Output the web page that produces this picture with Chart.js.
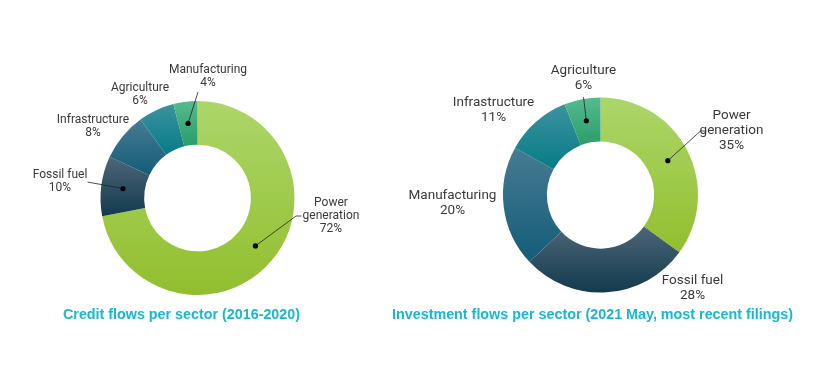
<!DOCTYPE html>
<html>
<head>
<meta charset="utf-8">
<script src="https://cdn.jsdelivr.net/npm/chart.js@4/dist/chart.umd.min.js"></script>
<style>
  html, body { margin: 0; padding: 0; background: #fff; }
  #wrap { position: relative; width: 825px; height: 382px; overflow: hidden; }
  canvas { position: absolute; left: 0; top: 0; }
  .title {
    position: absolute; top: 306px; white-space: nowrap;
    font-family: "Liberation Sans", Arial, sans-serif;
    font-weight: bold; font-size: 14px; line-height: 16px; color: #16b8d5;
    transform-origin: 0 0;
  }
</style>
</head>
<body>
<div id="wrap">
  <canvas id="credit" width="825" height="382"></canvas>
  <canvas id="invest" width="825" height="382"></canvas>
  <div class="title" id="t1">Credit flows per sector (2016-2020)</div>
  <div class="title" id="t2">Investment flows per sector (2021 May, most recent filings)</div>
</div>
<script>
// ---- data ----
const creditLabels = ["Power generation", "Fossil fuel", "Infrastructure", "Agriculture", "Manufacturing"];
const creditValues = [72, 10, 8, 6, 4];

const investLabels = ["Power generation", "Fossil fuel", "Manufacturing", "Infrastructure", "Agriculture"];
const investValues = [35, 28, 20, 11, 6];

// slice colours by position, [top, bottom] of the vertical gradient
const palette = [
  ["#acd66a", "#92bf2e"],
  ["#4d6677", "#123a4e"],
  ["#467b92", "#145c78"],
  ["#3c929f", "#067c86"],
  ["#55bb8e", "#2a9c6a"]
];

// ---- label layout (offsets from donut centre, px) ----
const creditLayout = {
  font: 12, lineH: 13,
  labels: [
    { dx: 133.5, dy: 18, lead: [[98.5, 18], [104, 18]] },
    { dx: -137.5, dy: -16.5, lead: [[-110, -16]] },
    { dx: -104.5, dy: -72 },
    { dx: -57.5, dy: -103.5 },
    { dx: 10.5, dy: -121.5, lead: [[0.5, -106]] }
  ]
};
const investLayout = {
  font: 13.5, lineH: 15,
  labels: [
    { dx: 131, dy: -64, lead: [[100, -64], [106, -64]] },
    { dx: 92, dy: 93 },
    { dx: -148, dy: 8.5 },
    { dx: -107, dy: -85 },
    { dx: -17, dy: -116.5, lead: [[-17, -98]] }
  ]
};

const CUTOUT = 0.55;

function sliceGradient(c) {
  const chart = c.chart;
  const a = chart.chartArea;
  const cols = palette[c.dataIndex % palette.length];
  if (!a) return cols[1];
  const cx = (a.left + a.right) / 2, cy = (a.top + a.bottom) / 2;
  const R = Math.min(a.width, a.height) / 2, r = R * CUTOUT;
  const vals = c.dataset.data;
  const total = vals.reduce((s, v) => s + v, 0);
  let before = 0;
  for (let i = 0; i < c.dataIndex; i++) before += vals[i];
  const a0 = -Math.PI / 2 + 2 * Math.PI * before / total;
  const a1 = a0 + 2 * Math.PI * vals[c.dataIndex] / total;
  let minY = Infinity, maxY = -Infinity;
  for (let k = 0; k <= 60; k++) {
    const t = a0 + (a1 - a0) * k / 60;
    for (const rad of [r, R]) {
      const y = cy + rad * Math.sin(t);
      minY = Math.min(minY, y); maxY = Math.max(maxY, y);
    }
  }
  const g = chart.ctx.createLinearGradient(0, minY, 0, maxY);
  g.addColorStop(0, cols[0]);
  g.addColorStop(1, cols[1]);
  return g;
}

const labelPlugin = {
  id: "sliceLabels",
  afterDatasetsDraw(chart, args, opts) {
    const ctx = chart.ctx;
    const meta = chart.getDatasetMeta(0);
    const labels = chart.data.labels;
    const vals = chart.data.datasets[0].data;
    const total = vals.reduce((s, v) => s + v, 0);
    ctx.save();
    meta.data.forEach((arc, i) => {
      const p = opts.labels[i];
      const cx = arc.x, cy = arc.y;
      if (p.lead) {
        const mid = (arc.startAngle + arc.endAngle) / 2;
        const rm = (arc.innerRadius + arc.outerRadius) / 2;
        const px = cx + rm * Math.cos(mid), py = cy + rm * Math.sin(mid);
        ctx.strokeStyle = "#222";
        ctx.lineWidth = 0.8;
        ctx.beginPath();
        ctx.moveTo(px, py);
        p.lead.forEach(([x, y]) => ctx.lineTo(cx + x, cy + y));
        ctx.stroke();
        ctx.fillStyle = "#000";
        ctx.beginPath();
        ctx.arc(px, py, 2.6, 0, Math.PI * 2);
        ctx.fill();
      }
      const words = labels[i] === "Power generation" ? ["Power", "generation"] : [labels[i]];
      const lines = words.concat([Math.round(vals[i] / total * 100) + "%"]);
      ctx.font = opts.font + "px Roboto, 'Noto Sans', sans-serif";
      ctx.fillStyle = "#3a3a3a";
      ctx.textAlign = "center";
      ctx.textBaseline = "middle";
      const top = cy + p.dy - (lines.length - 1) * opts.lineH / 2;
      lines.forEach((t, k) => ctx.fillText(t, cx + p.dx, top + k * opts.lineH));
    });
    ctx.restore();
  }
};

function makeChart(id, labels, values, padding, layout) {
  return new Chart(document.getElementById(id), {
    type: "doughnut",
    data: {
      labels: labels,
      datasets: [{
        data: values,
        backgroundColor: sliceGradient,
        borderWidth: 0,
        hoverOffset: 0
      }]
    },
    options: {
      responsive: false,
      animation: false,
      cutout: (CUTOUT * 100) + "%",
      layout: { padding: padding },
      plugins: {
        legend: { display: false },
        tooltip: { enabled: false },
        sliceLabels: layout
      },
      events: []
    },
    plugins: [labelPlugin]
  });
}

makeChart("credit", creditLabels, creditValues,
  { left: 100, right: 530, top: 101, bottom: 87 }, creditLayout);
makeChart("invest", investLabels, investValues,
  { left: 503, right: 127, top: 97, bottom: 89 }, investLayout);

// fit titles to the width they take in the picture
function fitTitle(id, left, width) {
  const el = document.getElementById(id);
  el.style.left = left + "px";
  const w = el.getBoundingClientRect().width;
  el.style.transform = "scaleX(" + (width / w) + ")";
}
fitTitle("t1", 63, 237);
fitTitle("t2", 392, 401);
</script>
</body>
</html>
